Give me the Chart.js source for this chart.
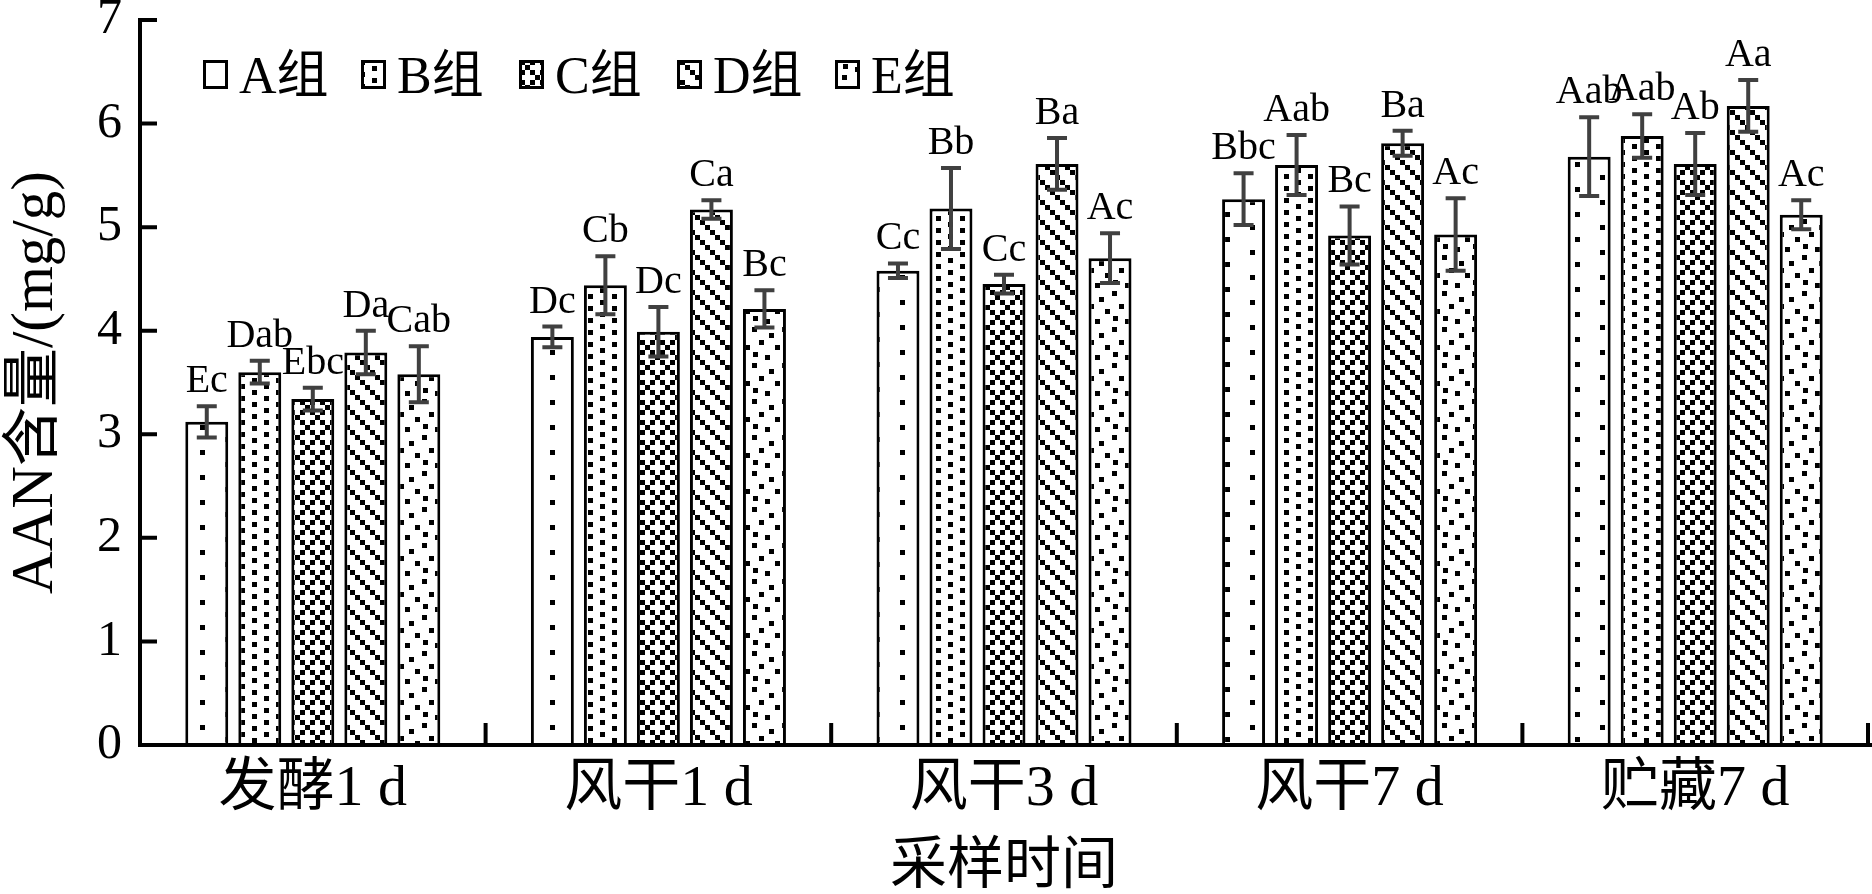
<!DOCTYPE html>
<html><head><meta charset="utf-8">
<script src="https://cdn.jsdelivr.net/npm/chart.js@4/dist/chart.umd.min.js"></script>
<style>html,body{margin:0;padding:0;background:#fff}canvas{display:block}</style>
</head><body>
<canvas id="c" width="1872" height="894"></canvas>
<script>
// ---- data ----
const categories = ['发酵1 d', '风干1 d', '风干3 d', '风干7 d', '贮藏7 d'];
const seriesNames = ['A组', 'B组', 'C组', 'D组', 'E组'];
const valuesA = [3.12, 3.94, 4.58, 5.27, 5.68];
const valuesB = [3.60, 4.44, 5.18, 5.60, 5.88];
const valuesC = [3.34, 3.99, 4.45, 4.92, 5.61];
const valuesD = [3.79, 5.17, 5.61, 5.81, 6.17];
const valuesE = [3.58, 4.21, 4.70, 4.93, 5.12];
const errorsA = [0.15, 0.10, 0.07, 0.25, 0.38];
const errorsB = [0.11, 0.28, 0.39, 0.29, 0.21];
const errorsC = [0.11, 0.24, 0.09, 0.28, 0.30];
const errorsD = [0.21, 0.09, 0.25, 0.12, 0.25];
const errorsE = [0.27, 0.18, 0.24, 0.35, 0.14];
const lettersA = ['Ec', 'Dc', 'Cc', 'Bbc', 'Aab'];
const lettersB = ['Dab', 'Cb', 'Bb', 'Aab', 'Aab'];
const lettersC = ['Ebc', 'Dc', 'Cc', 'Bc', 'Ab'];
const lettersD = ['Da', 'Ca', 'Ba', 'Ba', 'Aa'];
const lettersE = ['Cab', 'Bc', 'Ac', 'Ac', 'Ac'];
const yTickValues = [0, 1, 2, 3, 4, 5, 6, 7];
const yAxisTitle = 'AAN含量/(mg/g)';
const xAxisTitle = '采样时间';

// ---- fill patterns ----
function makePattern(w, h, cells, size) {
  const cv = document.createElement('canvas');
  cv.width = w; cv.height = h;
  const g = cv.getContext('2d');
  g.fillStyle = '#fff'; g.fillRect(0, 0, w, h);
  g.fillStyle = '#000';
  cells.forEach(([x, y]) => g.fillRect(x, y, size, size));
  return document.createElement('canvas').getContext('2d').createPattern(cv, 'repeat');
}
const patA = makePattern(50, 25, [[0, 0], [25, 12]], 5);
const patB = makePattern(24, 12, [[0, 0], [12, 6]], 5);
const patC = makePattern(20, 20, [[0, 0], [5, 5], [10, 10], [15, 15], [10, 0], [0, 10]], 5);
const patD = makePattern(20, 20, [[0, 0], [5, 5], [10, 10], [15, 15]], 5);
const patE = makePattern(30, 36, [[2, 3], [19, 9], [9, 16], [25, 21], [3, 28], [15, 31]], 5);

const SERIF = '"Liberation Serif", "Noto Sans CJK SC", serif';

const overlay = {
  id: 'overlay',
  afterDatasetsDraw(chart) {
    const ctx = chart.ctx, ys = chart.scales.y;
    ctx.save();
    chart.data.datasets.forEach((ds, di) => {
      const meta = chart.getDatasetMeta(di);
      meta.data.forEach((bar, i) => {
        const v = ds.data[i], e = ds.errors[i];
        const yt = ys.getPixelForValue(v + e), yb = ys.getPixelForValue(v - e);
        const cx = bar.x;
        ctx.strokeStyle = '#404040'; ctx.lineWidth = 4; ctx.lineCap = 'butt';
        ctx.beginPath();
        ctx.moveTo(cx, yt); ctx.lineTo(cx, yb);
        ctx.moveTo(cx - 10, yt); ctx.lineTo(cx + 10, yt);
        ctx.moveTo(cx - 10, yb); ctx.lineTo(cx + 10, yb);
        ctx.stroke();
        ctx.fillStyle = '#000';
        ctx.font = '40px ' + SERIF;
        ctx.textAlign = 'center'; ctx.textBaseline = 'alphabetic';
        ctx.fillText(ds.letters[i], cx, yt - 14);
      });
    });
    ctx.restore();
  },
  afterDraw(chart) {
    const ctx = chart.ctx, a = chart.chartArea, xs = chart.scales.x, ys = chart.scales.y;
    ctx.save();
    ctx.strokeStyle = '#000'; ctx.lineWidth = 4; ctx.lineCap = 'butt';
    ctx.beginPath();
    // axes
    ctx.moveTo(a.left, a.top); ctx.lineTo(a.left, a.bottom + 2);
    ctx.moveTo(a.left - 2, a.bottom); ctx.lineTo(chart.width, a.bottom);
    // y ticks (inward)
    yTickValues.forEach(v => {
      const py = ys.getPixelForValue(v);
      ctx.moveTo(a.left, py); ctx.lineTo(a.left + 17, py);
    });
    // category boundary ticks (inward)
    const half = (xs.getPixelForValue(1) - xs.getPixelForValue(0)) / 2;
    categories.forEach((c, i) => {
      const px = xs.getPixelForValue(i) + half;
      ctx.moveTo(px, a.bottom); ctx.lineTo(px, a.bottom - 22);
    });
    ctx.stroke();
    // legend
    const ly = 60;
    ctx.font = '52px ' + SERIF;
    ctx.textAlign = 'left'; ctx.textBaseline = 'alphabetic';
    chart.data.datasets.forEach((ds, k) => {
      const lx = 203 + k * 158;
      ctx.fillStyle = ds.backgroundColor;
      ctx.fillRect(lx, ly, 25, 29);
      ctx.lineWidth = 3; ctx.strokeStyle = '#000';
      ctx.strokeRect(lx + 1.5, ly + 1.5, 22, 26);
      ctx.fillStyle = '#000';
      ctx.fillText(ds.label, lx + 36, ly + 33);
    });
    ctx.restore();
  }
};

const pats = [patA, patB, patC, patD, patE];
const vals = [valuesA, valuesB, valuesC, valuesD, valuesE];
const errs = [errorsA, errorsB, errorsC, errorsD, errorsE];
const lets = [lettersA, lettersB, lettersC, lettersD, lettersE];

new Chart(document.getElementById('c'), {
  type: 'bar',
  data: {
    labels: categories,
    datasets: seriesNames.map((n, i) => ({
      label: n, data: vals[i], errors: errs[i], letters: lets[i],
      backgroundColor: pats[i], borderColor: '#000', borderWidth: 3,
      borderSkipped: 'start',
      categoryPercentage: 0.767, barPercentage: 0.81
    }))
  },
  options: {
    responsive: false, animation: false, devicePixelRatio: 1,
    layout: { padding: { top: 20, right: 4, left: 0, bottom: 0 } },
    plugins: { legend: { display: false }, tooltip: { enabled: false } },
    scales: {
      x: {
        grid: { display: false, drawTicks: false },
        border: { display: true, color: '#000', width: 4 },
        ticks: { color: '#000', font: { family: SERIF, size: 58 }, padding: 10, maxRotation: 0, autoSkip: false },
        title: { display: true, text: xAxisTitle, color: '#000', font: { family: SERIF, size: 57, lineHeight: 0.9 }, padding: 0 },
        afterFit(s) { s.height = 149; s.paddingLeft = 0; s.paddingRight = 0; }
      },
      y: {
        min: 0, max: 7,
        afterBuildTicks(s) { s.ticks = yTickValues.map(v => ({ value: v })); },
        grid: { display: false, drawTicks: false },
        border: { display: true, color: '#000', width: 4 },
        ticks: { color: '#000', font: { family: SERIF, size: 50 }, padding: 18 },
        title: { display: true, text: yAxisTitle, color: '#000', font: { family: SERIF, size: 59, lineHeight: 1 }, padding: { top: 7, bottom: 0 } },
        afterFit(s) { s.width = 140; s.paddingTop = 0; s.paddingBottom = 0; }
      }
    }
  },
  plugins: [overlay]
});
</script>
</body></html>
